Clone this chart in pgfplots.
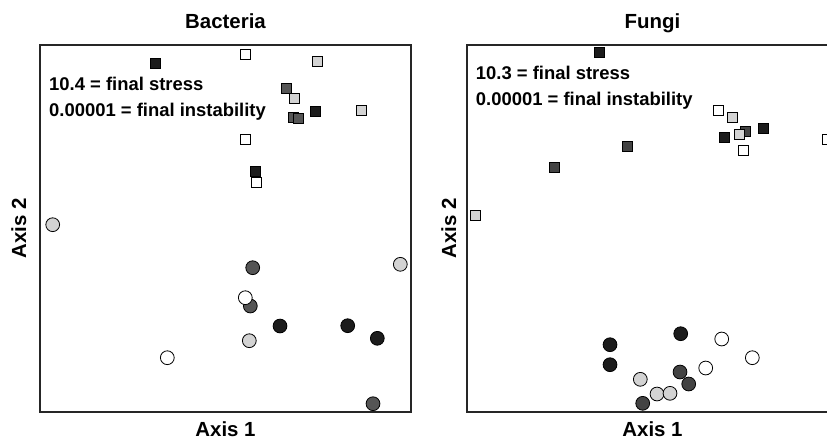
\documentclass[border=0pt]{standalone}
\usepackage{pgfplots}
\pgfplotsset{compat=1.18}
\usepackage{fontspec}
\setmainfont{Liberation Sans}
\definecolor{cblack}{HTML}{1C1C1C}
\definecolor{cdarkB}{HTML}{555555}
\definecolor{cdarkF}{HTML}{434343}
\definecolor{clight}{HTML}{D3D3D3}
\begin{document}
\begin{tikzpicture}[x=1bp,y=1bp]
\pgfplotsset{
  nmds/.style={
    scale only axis, width=371bp, height=367bp,
    ymin=45, ymax=412, y dir=reverse,
    ticks=none, axis line style={line width=1.1bp, black!85},
    clip=false,
  },
  sq/.style={only marks, mark=square*, mark size=4.9bp, mark options={draw=black, line width=0.7bp, fill=#1}},
  ci/.style={only marks, mark=*, mark size=6.9bp, mark options={draw=black, line width=0.8bp, fill=#1}},
}
\newcommand{\lab}{\bfseries\fontsize{20.5}{24}\selectfont}
\newcommand{\ann}{\bfseries\fontsize{18.5}{22}\selectfont}
% ---------------- Bacteria ----------------
\begin{axis}[nmds, xmin=40, xmax=411, at={(40bp,-412bp)}, anchor=south west]
\addplot[sq=cblack] coordinates {(155.3,63) (315.3,111.7) (255.3,171)};
\addplot[sq=cdarkB] coordinates {(286.3,88) (293,117) (298,118)};
\addplot[sq=clight] coordinates {(317,61.7) (294.3,98) (361,110)};
\addplot[sq=white] coordinates {(245,54) (245.7,139) (256,182.3)};
\addplot[ci=cblack] coordinates {(280,326) (347.7,325.7) (377.3,338.3)};
\addplot[ci=cdarkB] coordinates {(252.7,267.7) (250.3,306) (373,403.7)};
\addplot[ci=clight] coordinates {(52.7,224.7) (400.3,264.3) (249.3,340.7)};
\addplot[ci=white] coordinates {(245.3,297.7) (167.3,357.7)};
\node[anchor=base, font=\lab] at (axis cs:225.5,28) {Bacteria};
\node[anchor=base, font=\lab] at (axis cs:225.5,436) {Axis 1};
\node[anchor=base, rotate=90, font=\lab] at (axis cs:26,228.5) {Axis 2};
\node[anchor=base west, font=\ann, inner sep=0pt] at (axis cs:49,90) {10.4 = final stress};
\node[anchor=base west, font=\ann, inner sep=0pt] at (axis cs:49,116) {0.00001 = final instability};
\end{axis}
% ---------------- Fungi ----------------
\begin{axis}[nmds, xmin=467, xmax=838, at={(467bp,-412bp)}, anchor=south west]
\addplot[sq=cblack] coordinates {(599.3,52.7) (763.3,128.3) (724,137.3)};
\addplot[sq=cdarkF] coordinates {(745.3,131.7) (627.7,146.7) (554.3,167)};
\addplot[sq=clight] coordinates {(732,117.7) (739,134) (475,215.3)};
\addplot[sq=white] coordinates {(718,110.7) (743,150.3) (827,139.3)};
\addplot[ci=cblack] coordinates {(680.7,333.7) (610,344.7) (610,364.7)};
\addplot[ci=cdarkF] coordinates {(680,372) (688.7,384) (642.7,403.3)};
\addplot[ci=clight] coordinates {(640.3,379.3) (657,394) (670,393.3)};
\addplot[ci=white] coordinates {(721.7,339) (752.3,357.7) (705.7,368)};
\node[anchor=base, font=\lab] at (axis cs:652.5,28) {Fungi};
\node[anchor=base, font=\lab] at (axis cs:652.5,436) {Axis 1};
\node[anchor=base, rotate=90, font=\lab] at (axis cs:456,228.5) {Axis 2};
\node[anchor=base west, font=\ann, inner sep=0pt] at (axis cs:475.7,79.3) {10.3 = final stress};
\node[anchor=base west, font=\ann, inner sep=0pt] at (axis cs:475.7,105) {0.00001 = final instability};
\end{axis}
\pgfresetboundingbox
\useasboundingbox (0,0) rectangle (827,-442);
\end{tikzpicture}
\end{document}
